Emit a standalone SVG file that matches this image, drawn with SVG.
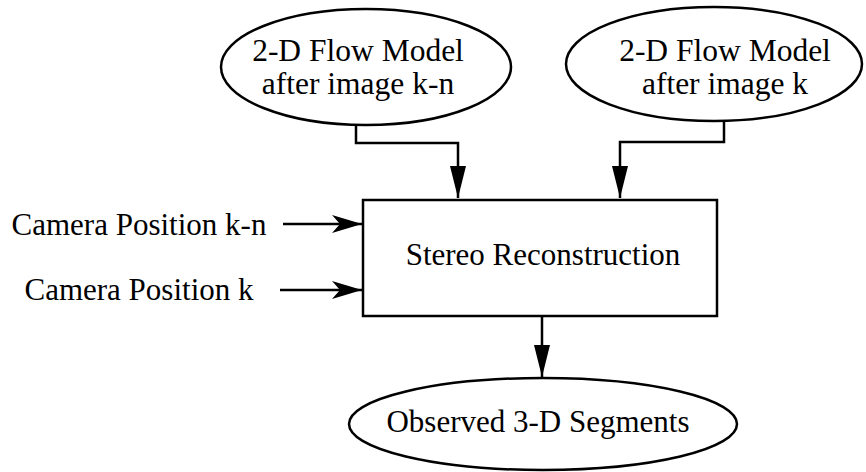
<svg xmlns="http://www.w3.org/2000/svg" width="866" height="472" viewBox="0 0 866 472">
<style>
text{font-family:"Liberation Serif","Times New Roman",serif;font-size:31px;fill:#000;text-anchor:middle}
text.two{font-size:31.5px}
.shape{fill:#fff;stroke:#000;stroke-width:2.5}
.edge{fill:none;stroke:#000;stroke-width:2.5}
</style>
<defs>
<marker id="tri" markerUnits="userSpaceOnUse" markerWidth="32" markerHeight="16" refX="32" refY="8" orient="auto" viewBox="0 0 32 16">
<path d="M0,0 L32,8 L0,16 Z" fill="#000"/>
</marker>
<marker id="barb" markerUnits="userSpaceOnUse" markerWidth="30" markerHeight="18" refX="30" refY="9" orient="auto" viewBox="0 0 30 18">
<path d="M0,0 L30,9 L0,18 L8,9 Z" fill="#000"/>
</marker>
</defs>
<g id="flow-kn">
<ellipse class="shape" cx="366" cy="67" rx="145" ry="58"/>
<text class="two" x="358" y="61">2-D Flow Model</text>
<text class="two" x="358" y="94">after image k-n</text>
</g>
<g id="flow-k">
<ellipse class="shape" cx="714" cy="64" rx="148" ry="57"/>
<text class="two" x="725" y="61">2-D Flow Model</text>
<text class="two" x="725" y="94">after image k</text>
</g>
<g id="stereo">
<rect class="shape" x="363" y="200" width="354" height="116"/>
<text x="543" y="265">Stereo Reconstruction</text>
</g>
<g id="segments">
<ellipse class="shape" cx="543" cy="424" rx="194" ry="46"/>
<text x="538" y="432">Observed 3-D Segments</text>
</g>
<g id="cam-kn">
<text x="139" y="235">Camera Position k-n</text>
</g>
<g id="cam-k">
<text x="139" y="300">Camera Position k</text>
</g>
<g id="connectors">
<path class="edge" d="M356,125 V143 H458 V198" marker-end="url(#tri)"/>
<path class="edge" d="M724,121 V142 H620 V198" marker-end="url(#tri)"/>
<path class="edge" d="M542,316 V377" marker-end="url(#tri)"/>
<path class="edge" d="M283,224 H362" marker-end="url(#barb)"/>
<path class="edge" d="M280,290 H362" marker-end="url(#barb)"/>
</g>
</svg>
